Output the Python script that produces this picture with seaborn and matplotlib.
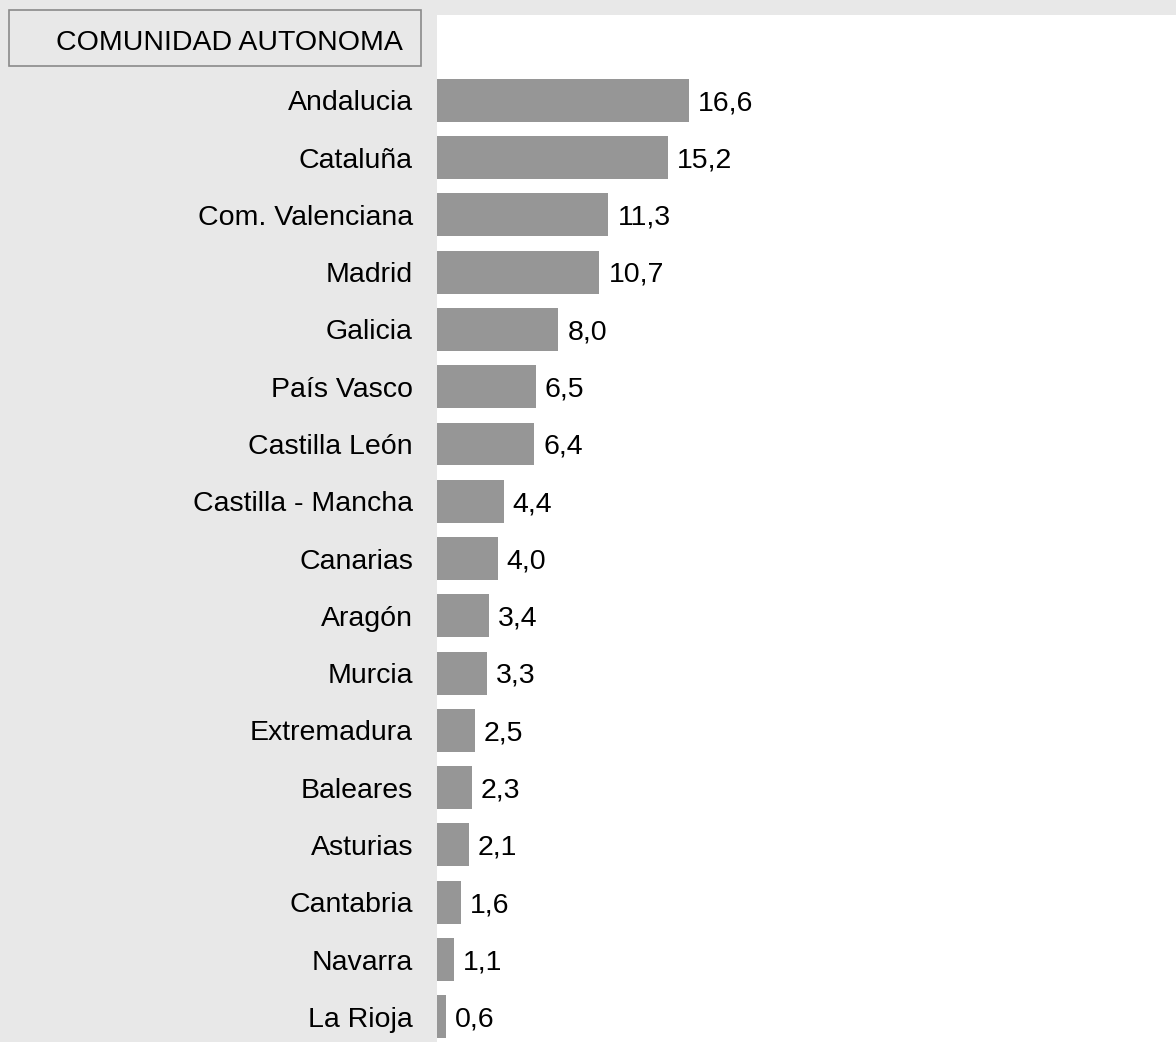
import matplotlib
matplotlib.use("Agg")
import matplotlib.pyplot as plt
import seaborn as sns
import pandas as pd
from matplotlib.patches import Rectangle

regiones = ["Andalucia", "Cataluña", "Com. Valenciana", "Madrid", "Galicia",
            "País Vasco", "Castilla León", "Castilla - Mancha", "Canarias",
            "Aragón", "Murcia", "Extremadura", "Baleares", "Asturias",
            "Cantabria", "Navarra", "La Rioja"]
valores = [16.6, 15.2, 11.3, 10.7, 8.0, 6.5, 6.4, 4.4, 4.0, 3.4, 3.3, 2.5,
           2.3, 2.1, 1.6, 1.1, 0.6]
titulo = "COMUNIDAD AUTONOMA"

sns.set_theme(style="white")
plt.rcParams["font.family"] = ["Liberation Sans", "DejaVu Sans"]

FS = 20.5
df = pd.DataFrame({"region": regiones, "valor": valores})

W, H = 1176, 1042
fig = plt.figure(figsize=(W / 100, H / 100), dpi=100)
fig.patch.set_facecolor("#e8e8e8")

ax = fig.add_axes([437 / W, 0, (W - 437) / W, (H - 15) / H])
ax.set_facecolor("white")
sns.barplot(data=df, x="valor", y="region", color="#969696", width=0.75,
            saturation=1, ax=ax, orient="h", linewidth=0)
ax.set_xlim(0, 48.7)
ax.set_ylim(16.44, -1.49)
for s in ax.spines.values():
    s.set_visible(False)
ax.set_xlabel("")
ax.set_ylabel("")
ax.set_xticks([])
ax.tick_params(axis="y", length=0, pad=17.3, labelsize=FS, labelcolor="black")

for i, v in enumerate(valores):
    ax.annotate(f"{v:.1f}".replace(".", ","), xy=(v, i), xytext=(6.5, -2),
                textcoords="offset points", va="center", ha="left",
                fontsize=FS, color="black")

fig.patches.append(Rectangle((9 / W, 1 - 66 / H), (421 - 9) / W, (66 - 10) / H,
                             transform=fig.transFigure, facecolor="#e8e8e8",
                             edgecolor="#8a8a8a", linewidth=1.2))
fig.text(403 / W, 1 - 43.5 / H, titulo, ha="right", va="center",
         fontsize=FS, color="black")

fig.savefig("out.png", dpi=100, facecolor=fig.get_facecolor())
